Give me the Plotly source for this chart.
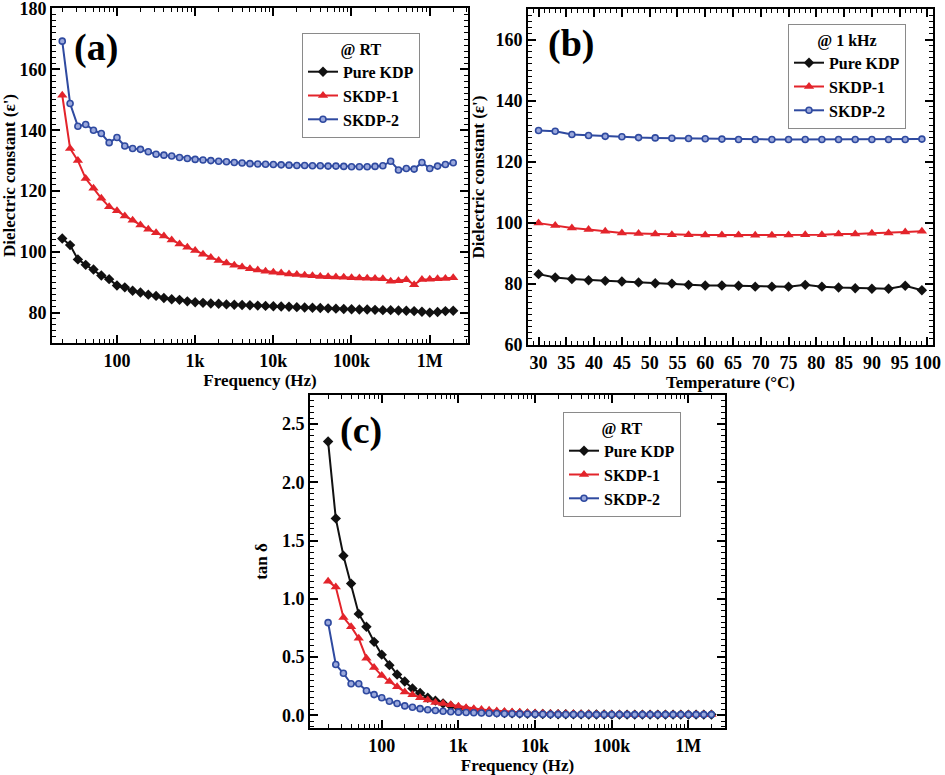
import plotly.graph_objects as go

# ---------------- data ----------------
FREQ = [20, 25.2, 31.7, 39.9, 50.2, 63.2, 79.6, 100.2, 126.2, 158.9,
        200, 252, 317, 399, 502, 632, 796, 1002, 1262, 1589,
        2000, 2518, 3170, 3991, 5024, 6325, 7962, 10024, 12619, 15887,
        20000, 25179, 31698, 39905, 50238, 63246, 79621, 100237, 126191, 158866,
        200000, 251785, 316979, 399052, 502377, 632456, 796214, 1002374, 1261915, 1588656,
        2000000]
FREQ_TICKS = [100, 1000, 10000, 100000, 1000000]
FREQ_LABELS = ["100", "1k", "10k", "100k", "1M"]

EPS_KDP = [104.4, 102.2, 97.5, 95.7, 94.2, 92.2, 91.0, 88.9, 88.3, 87.2,
           86.6, 85.9, 85.5, 84.8, 84.4, 84.2, 83.7, 83.4, 83.2, 83.0,
           82.9, 82.7, 82.6, 82.5, 82.4, 82.3, 82.2, 82.1, 82.0, 81.9,
           81.8, 81.7, 81.6, 81.5, 81.4, 81.3, 81.2, 81.1, 81.0, 81.0,
           80.9, 80.8, 80.8, 80.7, 80.6, 80.5, 80.3, 80.0, 80.2, 80.5,
           80.6]
EPS_SKDP1 = [151.5, 134.0, 130.0, 124.1, 120.9, 117.6, 114.8, 113.5, 111.8, 110.4,
             108.8, 107.4, 106.3, 105.2, 103.9, 102.6, 101.5, 100.4, 99.2, 98.1,
             97.1, 96.3, 95.6, 95.0, 94.4, 94.0, 93.6, 93.3, 93.0, 92.7,
             92.5, 92.3, 92.1, 91.9, 91.8, 91.7, 91.6, 91.5, 91.4, 91.3,
             91.2, 91.1, 90.3, 90.5, 90.8, 89.2, 90.9, 91.0, 91.1, 91.2,
             91.5]
EPS_SKDP2 = [169.3, 148.8, 141.3, 141.9, 140.0, 138.9, 135.9, 137.6, 134.8, 134.0,
             133.7, 132.9, 132.1, 131.8, 131.5, 131.0, 130.7, 130.4, 130.2, 130.0,
             129.8, 129.6, 129.4, 129.2, 129.0, 128.9, 128.8, 128.7, 128.6, 128.5,
             128.4, 128.4, 128.3, 128.3, 128.2, 128.2, 128.1, 128.0, 128.0, 128.0,
             128.1, 128.3, 129.8, 126.9, 127.4, 127.2, 129.4, 127.4, 128.2, 128.7,
             129.3]

TEMP = [30, 33, 36, 39, 42, 45, 48, 51, 54, 57, 60, 63, 66, 69, 72, 75,
        78, 81, 84, 87, 90, 93, 96, 99]
T_KDP = [83.2, 82.1, 81.6, 81.2, 81.0, 80.8, 80.5, 80.2, 80.1, 79.7, 79.5, 79.5,
         79.4, 79.1, 79.1, 79.1, 79.7, 79.1, 78.8, 78.6, 78.4, 78.4, 79.4, 77.9]
T_SKDP1 = [99.9, 99.1, 98.3, 97.8, 97.2, 96.7, 96.5, 96.3, 96.1, 96.1, 96.0, 96.0,
           96.0, 95.9, 95.9, 96.0, 96.1, 96.1, 96.3, 96.3, 96.6, 96.7, 97.0, 97.2]
T_SKDP2 = [130.2, 130.0, 128.9, 128.6, 128.3, 128.2, 127.9, 127.8, 127.7, 127.6,
           127.5, 127.4, 127.3, 127.3, 127.3, 127.3, 127.3, 127.3, 127.3, 127.3,
           127.3, 127.3, 127.3, 127.4]

TAN_KDP = [2.35, 1.69, 1.37, 1.13, 0.87, 0.76, 0.63, 0.52, 0.43, 0.35,
           0.29, 0.23, 0.19, 0.15, 0.125, 0.10, 0.08, 0.062, 0.05, 0.04,
           0.033, 0.027, 0.022, 0.019, 0.016, 0.014, 0.012, 0.011, 0.010, 0.009,
           0.008, 0.008, 0.007, 0.007, 0.006, 0.006, 0.006, 0.005, 0.005, 0.005,
           0.005, 0.005, 0.005, 0.005, 0.005, 0.005, 0.005, 0.005, 0.005, 0.005,
           0.005]
TAN_SKDP1 = [1.15, 1.10, 0.84, 0.76, 0.66, 0.49, 0.41, 0.34, 0.29, 0.245,
             0.20, 0.175, 0.15, 0.13, 0.11, 0.10, 0.09, 0.077, 0.064, 0.056,
             0.049, 0.043, 0.037, 0.032, 0.028, 0.025, 0.022, 0.019, 0.017, 0.015,
             0.014, 0.013, 0.012, 0.011, 0.010, 0.009, 0.009, 0.008, 0.008, 0.007,
             0.007, 0.007, 0.007, 0.007, 0.006, 0.006, 0.006, 0.006, 0.006, 0.006,
             0.006]
TAN_SKDP2 = [0.795, 0.435, 0.36, 0.27, 0.27, 0.21, 0.177, 0.15, 0.12, 0.10,
             0.08, 0.068, 0.056, 0.047, 0.04, 0.034, 0.029, 0.026, 0.023, 0.021,
             0.019, 0.017, 0.015, 0.013, 0.012, 0.011, 0.010, 0.009, 0.008, 0.007,
             0.007, 0.006, 0.006, 0.006, 0.005, 0.005, 0.005, 0.005, 0.005, 0.005,
             0.005, 0.005, 0.005, 0.005, 0.005, 0.005, 0.005, 0.005, 0.005, 0.005,
             0.005]

NAMES = ["Pure KDP", "SKDP-1", "SKDP-2"]

# ---------------- styling ----------------
FONT = "Liberation Serif, Times New Roman, Times, serif"
BLACK = "#111111"
RED = "#e3242b"
BLUE = "#2f4aa0"
STYLES = [
    dict(color=BLACK, marker=dict(symbol="diamond", size=8, color=BLACK,
                                  line=dict(width=0))),
    dict(color=RED, marker=dict(symbol="triangle-up", size=9, color=RED,
                                line=dict(width=0))),
    dict(color=BLUE, marker=dict(symbol="circle", size=6, color="#9aa8dc",
                                 line=dict(width=1.6, color=BLUE))),
]

W, H = 945, 775


def dom_x(a, b):
    return [a / W, b / W]


def dom_y(top, bottom):
    return [1 - bottom / H, 1 - top / H]


fig = go.Figure()

panels = [
    (FREQ, [EPS_KDP, EPS_SKDP1, EPS_SKDP2], "x", "y", "legend"),
    (TEMP, [T_KDP, T_SKDP1, T_SKDP2], "x2", "y2", "legend2"),
    (FREQ, [TAN_KDP, TAN_SKDP1, TAN_SKDP2], "x3", "y3", "legend3"),
]
for xs, series, xa, ya, lg in panels:
    for name, ys, st in zip(NAMES, series, STYLES):
        fig.add_trace(go.Scatter(
            x=xs, y=ys, name=name, mode="lines+markers",
            line=dict(color=st["color"], width=2),
            marker=st["marker"], xaxis=xa, yaxis=ya, legend=lg,
        ))

tickfont = dict(family=FONT, size=18, color="black", weight="bold")
titlefont = dict(family=FONT, size=17, color="black", weight="bold")


def axis_common():
    return dict(showline=True, linecolor="black", linewidth=2, mirror="allticks",
                ticks="inside", ticklen=8, tickwidth=1.6, tickcolor="black",
                showgrid=False, zeroline=False, tickfont=tickfont,
                automargin=False, ticklabeloverflow="allow")


def minor(dt):
    return dict(ticks="inside", ticklen=4, tickwidth=1.2, tickcolor="black",
                dtick=dt, showgrid=False)


fig.update_layout(
    xaxis=dict(**axis_common(), type="log", domain=dom_x(52, 468),
               range=[1.17, 6.49], tickmode="array", tickvals=FREQ_TICKS,
               ticktext=FREQ_LABELS, minor=minor("D1"),
               title=dict(text="Frequency (Hz)", font=titlefont, standoff=0),
               anchor="y"),
    yaxis=dict(**axis_common(), domain=dom_y(8, 343), range=[70, 180.2], dtick=20,
               minor=minor(2),
               title=dict(text="Dielectric constant (ε')", font=titlefont, standoff=6),
               anchor="x"),
    xaxis2=dict(**axis_common(), domain=dom_x(528, 933), range=[28.1, 101], dtick=5,
                minor=minor(1),
                title=dict(text="Temperature (°C)", font=titlefont, standoff=0),
                anchor="y2"),
    yaxis2=dict(**axis_common(), domain=dom_y(9, 345), range=[60, 170], dtick=20,
                minor=minor(2),
                title=dict(text="Dielectric constant (ε')", font=titlefont, standoff=6),
                anchor="x2"),
    xaxis3=dict(**axis_common(), type="log", domain=dom_x(310, 725),
                range=[1.065, 6.478], tickmode="array", tickvals=FREQ_TICKS,
                ticktext=FREQ_LABELS, minor=minor("D1"),
                title=dict(text="Frequency (Hz)", font=titlefont, standoff=0),
                anchor="y3"),
    yaxis3=dict(**axis_common(), domain=dom_y(395, 728), range=[-0.11, 2.75],
                dtick=0.5, tickformat=".1f", minor=minor(0.05),
                title=dict(text="tan δ", font=titlefont, standoff=10),
                anchor="x3"),
)

legfont = dict(family=FONT, size=16, color="black", weight="bold")


def legend(x, y, title):
    return dict(x=x / W, y=1 - y / H, xanchor="left", yanchor="top",
                bgcolor="white", bordercolor="#8a8a8a", borderwidth=1,
                font=legfont, tracegroupgap=0, itemwidth=30,
                title=dict(text=title, font=legfont, side="top center"))


fig.update_layout(
    legend=legend(302, 33, "@ RT"),
    legend2=legend(788, 24, "@ 1 kHz"),
    legend3=legend(563, 412, "@ RT"),
)

labfont = dict(family=FONT, size=38, color="black", weight="bold")
for txt, x, y in [("(a)", 72, 47), ("(b)", 546, 44), ("(c)", 338, 430)]:
    fig.add_annotation(text=txt, x=x / W, y=1 - y / H, xref="paper", yref="paper",
                       xanchor="left", yanchor="middle", showarrow=False, font=labfont)

fig.update_layout(width=W, height=H, margin=dict(l=0, r=0, t=0, b=0, autoexpand=False),
                  paper_bgcolor="white", plot_bgcolor="white", showlegend=True)

fig.write_html("out.html", config={"displayModeBar": False},
               post_script="document.body.style.margin='0';"
                           "document.body.style.overflow='hidden';")
